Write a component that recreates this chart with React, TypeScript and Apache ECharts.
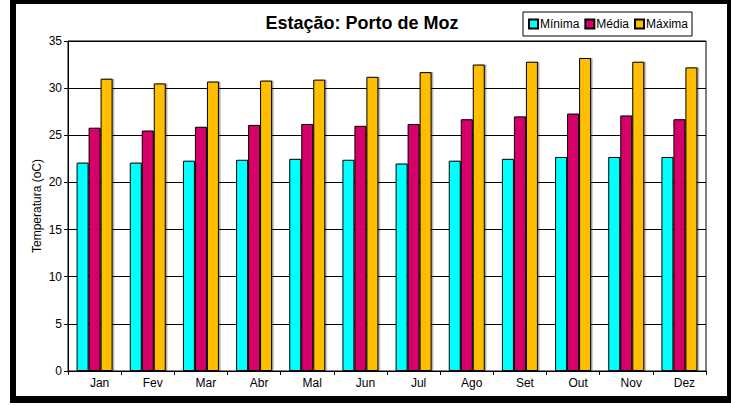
import React, { useEffect, useRef } from "react";
import * as echarts from "echarts";

const months = ["Jan", "Fev", "Mar", "Abr", "Mal", "Jun", "Jul", "Ago", "Set", "Out", "Nov", "Dez"];
const minima = [22.1, 22.1, 22.3, 22.4, 22.5, 22.4, 22.0, 22.3, 22.5, 22.7, 22.7, 22.7];
const media = [25.8, 25.5, 25.9, 26.1, 26.2, 26.0, 26.2, 26.7, 27.0, 27.3, 27.1, 26.7];
const maxima = [31.0, 30.5, 30.7, 30.8, 30.9, 31.2, 31.7, 32.5, 32.8, 33.2, 32.8, 32.2];
const seriesNames = ["Mínima", "Média", "Máxima"];
const colors = ["#00FFFF", "#D6006B", "#FFBF00"];

const FONT = "Liberation Sans, Arial, sans-serif";

export default function App() {
  const ref = useRef<HTMLDivElement>(null);
  useEffect(() => {
    if (!ref.current) return;
    const chart = echarts.init(ref.current, null, { renderer: "svg" });
    const data = [minima, media, maxima];
    chart.setOption({
      animation: false,
      backgroundColor: "#fff",
      textStyle: { fontFamily: FONT },
      graphic: [
        { type: "rect", shape: { x: 10, y: 0, width: 721, height: 403 }, style: { fill: "#000" }, z: -10 },
        { type: "rect", shape: { x: 16, y: 4, width: 711, height: 392 }, style: { fill: "#fff" }, z: -9 },
        {
          type: "text",
          x: 362,
          y: 23,
          style: {
            text: "Estação: Porto de Moz",
            fontFamily: FONT,
            fontSize: 18,
            fontWeight: "bold",
            fill: "#000",
            align: "center",
            verticalAlign: "middle",
          },
        },
      ],
      legend: {
        left: 523,
        top: 12,
        width: 170,
        padding: [6, 4, 6, 5],
        itemGap: 5,
        itemWidth: 9,
        itemHeight: 9,
        borderColor: "#000",
        borderWidth: 1,
        icon: "rect",
        textStyle: { fontFamily: FONT, fontSize: 12, color: "#000", padding: [0, 0, 0, -3] },
        data: seriesNames,
      },
      grid: {
        left: 68,
        right: 25,
        top: 41,
        bottom: 35,
        show: true,
        borderColor: "#000",
        borderWidth: 1,
        backgroundColor: "transparent",
      },
      xAxis: {
        type: "category",
        data: months,
        axisLine: { lineStyle: { color: "#000" } },
        axisTick: { show: true, length: 4, lineStyle: { color: "#000" } },
        axisLabel: { color: "#000", fontSize: 12, margin: 6, fontFamily: FONT, padding: [0, 0, 0, 10] },
      },
      yAxis: {
        type: "value",
        min: 0,
        max: 35,
        interval: 5,
        name: "Temperatura (oC)",
        nameLocation: "middle",
        nameGap: 25,
        nameMoveOverlap: false,
        nameTextStyle: { color: "#000", fontSize: 12, fontFamily: FONT },
        axisLine: { show: true, lineStyle: { color: "#000" } },
        axisTick: { show: true, length: 4, lineStyle: { color: "#000" } },
        axisLabel: { color: "#000", fontSize: 12, margin: 6, fontFamily: FONT },
        splitLine: { show: true, lineStyle: { color: "#000", width: 1 } },
      },
      series: data.map((d, i) => ({
        name: seriesNames[i],
        type: "bar",
        data: d,
        barWidth: 12,
        barGap: "0%",
        itemStyle: {
          color: colors[i],
          borderColor: "#000",
          borderWidth: 1,
          shadowColor: "rgba(0,0,0,0.35)",
          shadowOffsetX: 1.5,
          shadowOffsetY: 0,
          shadowBlur: 0,
        },
      })),
    });
    return () => chart.dispose();
  }, []);
  return (
    <div
      ref={ref}
      style={{ position: "fixed", left: 0, top: 0, width: 731, height: 406 }}
    />
  );
}
